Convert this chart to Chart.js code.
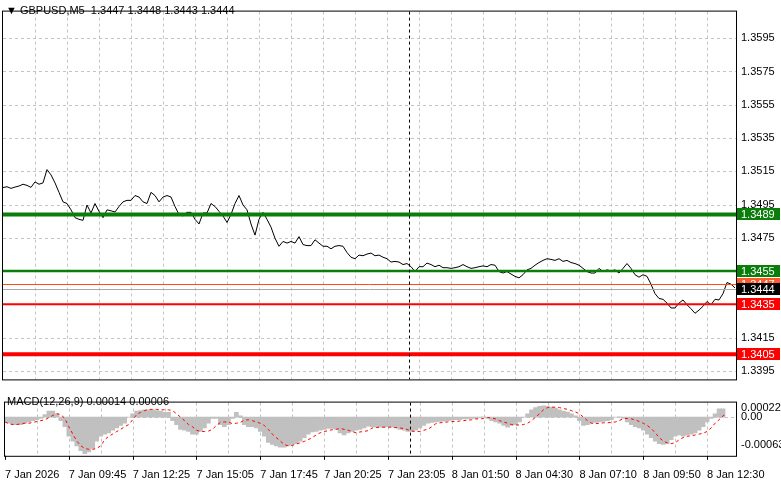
<!DOCTYPE html>
<html><head><meta charset="utf-8">
<script src="https://cdn.jsdelivr.net/npm/chart.js@4/dist/chart.umd.min.js"></script>
<style>
body{margin:0;background:#fff;width:781px;height:489px;overflow:hidden;position:relative}
#c1{position:absolute;left:0;top:0}
#c2{position:absolute;left:0;top:391px}
</style></head><body>
<canvas id="c1" width="781" height="391"></canvas>
<canvas id="c2" width="781" height="98"></canvas>
<script>
const title = "▼ GBPUSD,M5  1.3447 1.3448 1.3443 1.3444";
const macdTitle = "MACD(12,26,9) 0.00014 0.00006";
const timeLabels = ["7 Jan 2026","7 Jan 09:45","7 Jan 12:25","7 Jan 15:05","7 Jan 17:45","7 Jan 20:25","7 Jan 23:05","8 Jan 01:50","8 Jan 04:30","8 Jan 07:10","8 Jan 09:50","8 Jan 12:30"];
const priceTicks = [1.3595,1.3575,1.3555,1.3535,1.3515,1.3495,1.3475,1.3455,1.3435,1.3415,1.3395];
const macdTicks = [0.00022,0.00,-0.00063];
// close prices, one every 10 minutes
const closes = [1.35052,1.35057,1.35047,1.35055,1.35061,1.35072,1.35065,1.35053,1.35086,1.35072,1.35080,1.35160,1.35128,1.35080,1.35023,1.34966,1.34956,1.34918,1.34871,1.34861,1.34855,1.34947,1.34899,1.34956,1.34909,1.34871,1.34918,1.34912,1.34905,1.34938,1.34966,1.34975,1.34975,1.35004,1.34995,1.34966,1.34956,1.35023,1.35004,1.34966,1.34995,1.35004,1.34995,1.34938,1.34890,1.34881,1.34903,1.34903,1.34861,1.34833,1.34899,1.34899,1.34956,1.34938,1.34909,1.34881,1.34842,1.34890,1.34956,1.35004,1.34947,1.34918,1.34833,1.34766,1.34861,1.34903,1.34861,1.34814,1.34747,1.34699,1.34728,1.34718,1.34728,1.34718,1.34757,1.34709,1.34703,1.34703,1.34738,1.34718,1.34699,1.34699,1.34684,1.34699,1.34703,1.34699,1.34661,1.34633,1.34624,1.34646,1.34642,1.34652,1.34658,1.34642,1.34646,1.34633,1.34624,1.34604,1.34608,
1.34604,1.34589,1.34595,1.34576,1.34547,1.34576,1.34576,1.34598,1.34589,1.34576,1.34585,1.34570,1.34570,1.34566,1.34570,1.34576,1.34589,1.34576,1.34566,1.34570,1.34576,1.34581,1.34576,1.34589,1.34585,1.34547,1.34538,1.34547,1.34532,1.34518,1.34509,1.34528,1.34557,1.34566,1.34585,1.34601,1.34614,1.34624,1.34620,1.34614,1.34624,1.34608,1.34614,1.34601,1.34595,1.34585,1.34566,1.34547,1.34538,1.34538,1.34566,1.34547,1.34557,1.34551,1.34557,1.34538,1.34566,1.34595,1.34566,1.34528,1.34513,1.34528,1.34518,1.34471,1.34414,1.34385,1.34380,1.34357,1.34328,1.34328,1.34357,1.34376,1.34347,1.34323,1.34296,1.34315,1.34338,1.34367,1.34347,1.34380,1.34376,1.34414,1.34481,1.34471,1.34448];
// MACD histogram and signal, in units of 0.00001
const macdHistE5 = [-10,-14,-17,-17,-17,-14,-11,-8,-6,-3,6,14,14,8,-8,-22,-44,-55,-66,-77,-84,-80,-72,-55,-44,-39,-36,-30,-25,-19,-14,0,8,14,15,17,17,17,15,14,11,11,-8,-17,-28,-30,-33,-39,-39,-33,-25,-14,-3,-3,-17,-22,-17,-3,11,3,-17,-22,-22,-25,-33,-44,-58,-63,-66,-69,-69,-66,-63,-61,-55,-47,-39,-34,-33,-30,-28,-26,-26,-28,-36,-41,-36,-33,-30,-28,-25,
-21,-22,-23,-23,-23,-22,-23,-25,-28,-30,-33,-33,-30,-25,-19,-14,-12,-11,-10,-9,-8,-7,-6,-6,-4,-4,-3,-3,-1,1,-3,-8,-11,-14,-19,-23,-19,-17,-11,0,8,17,22,25,26,25,23,21,17,14,12,8,3,-8,-19,-17,-14,-12,-11,-10,-8,-6,0,1,-3,-11,-17,-22,-25,-30,-39,-47,-55,-61,-63,-61,-52,-44,-41,-44,-41,-39,-36,-30,-22,-11,-3,8,19,19];
const macdSignalE5 = [-11,-15,-17,-17,-15,-14,-14,-12,-10,-8,-6,-1,4,8,6,-3,-22,-39,-55,-66,-72,-74,-74,-72,-66,-52,-44,-39,-33,-28,-22,-17,-6,6,11,15,18,18,18,17,17,17,15,8,0,-8,-17,-22,-30,-33,-33,-32,-28,-19,-12,-11,-11,-15,-14,-12,-7,-6,-8,-11,-14,-19,-28,-39,-47,-55,-63,-66,-65,-62,-59,-56,-52,-47,-41,-36,-33,-31,-29,-28,-26,-28,-30,-33,-36,-34,-33,-31,
-25,-24,-23,-23,-23,-23,-24,-25,-26,-29,-32,-33,-33,-30,-28,-22,-15,-13,-12,-11,-10,-10,-9,-8,-7,-6,-4,-4,-3,-1,-2,-4,-8,-11,-14,-17,-18,-18,-17,-14,-8,0,8,17,22,23,23,22,20,18,15,12,8,0,-8,-14,-15,-14,-13,-13,-12,-11,-8,-3,-3,-4,-6,-10,-14,-19,-26,-36,-47,-55,-59,-61,-59,-52,-47,-44,-43,-41,-39,-37,-33,-25,-14,-6,3,8];
const levels = [
 {v:1.3489,color:"#0b7d0b",w:4,label:"1.3489",box:"#0b7d0b"},
 {v:1.3455,color:"#0b7d0b",w:2.5,label:"1.3455",box:"#0b7d0b"},
 {v:1.3447,color:"#ff4a1a",w:1,label:"1.3447",box:"#ff5a2a"},
 {v:1.3444,color:"#a8a8a8",w:1,label:"1.3444",box:"#000000"},
 {v:1.3435,color:"#ff0000",w:2,label:"1.3435",box:"#ff0000"},
 {v:1.3405,color:"#ff0000",w:4,label:"1.3405",box:"#ff0000"}
];
const cursorIndex = 101.5;
const X_MAX = 183.25;

const FONT = {family:"Liberation Sans", size:11};
const NOGRID = {display:false, drawTicks:false};
function xScale(showLabels){
  return {type:"linear", min:0, max:X_MAX, offset:false,
    afterBuildTicks:s=>{const t=[];for(let i=0;i<=176;i+=8)t.push({value:i});s.ticks=t;},
    grid:{display:false}, border:{display:false},
    ticks:{display:showLabels,autoSkip:false,maxRotation:0,align:"start",color:"#000",font:FONT,padding:5,
      callback:v=>(v%16===0? timeLabels[v/16]||"" : "")}};
}
function dashedGrid(c, horiz){
  const g=c.ctx,a=c.chartArea;g.save();g.strokeStyle="#c4c4c4";g.lineWidth=1;g.setLineDash([3,3]);
  c.scales.x.ticks.forEach(t=>{if(t.value===0)return;const x=Math.round(c.scales.x.getPixelForValue(t.value))+0.5;g.beginPath();g.moveTo(x,a.top);g.lineTo(x,a.bottom);g.stroke();});
  horiz.forEach(v=>{const y=Math.round(c.scales.y.getPixelForValue(v))+0.5;g.beginPath();g.moveTo(a.left,y);g.lineTo(a.right,y);g.stroke();});
  g.restore();
}
const frame = {id:"frame", afterDraw(c){const a=c.chartArea,g=c.ctx;g.save();g.strokeStyle="#000";g.lineWidth=1;
  g.strokeRect(a.left-0.5,a.top-0.5,a.right-a.left+1,a.bottom-a.top+1);
  const x=Math.round(c.scales.x.getPixelForValue(cursorIndex))+0.5;g.setLineDash([3,3]);g.beginPath();g.moveTo(x,a.top);g.lineTo(x,a.bottom);g.stroke();
  if(c.canvas.id==="c2"){g.setLineDash([]);c.scales.x.ticks.forEach(t=>{if(t.value%16)return;const px=Math.round(c.scales.x.getPixelForValue(t.value))+0.5;g.beginPath();g.moveTo(px,a.bottom);g.lineTo(px,a.bottom+4);g.stroke();});}
  g.restore();}};

new Chart(document.getElementById("c1"),{
  type:"line",
  data:{datasets:[{data:closes.map((v,i)=>({x:i,y:v})),borderColor:"#000",borderWidth:1,pointRadius:0,tension:0}]},
  options:{responsive:false,animation:false,layout:{padding:{left:3,top:3,right:0,bottom:1}},
    plugins:{legend:{display:false},tooltip:{enabled:false}},
    scales:{x:Object.assign(xScale(false),{display:true}),
      y:{position:"right",min:1.338984,max:1.361100,afterFit:s=>{s.width=45;},
        afterBuildTicks:s=>{s.ticks=priceTicks.map(v=>({value:v}));},
        grid:NOGRID, border:{display:false},
        ticks:{color:"#000",font:FONT,padding:5,callback:v=>v.toFixed(4)}}}},
  plugins:[{id:"grid",beforeDatasetsDraw(c){dashedGrid(c,priceTicks);}},
    {id:"levels",afterDatasetsDraw(c){const g=c.ctx,a=c.chartArea,y=c.scales.y;g.save();
      levels.forEach(l=>{let p=y.getPixelForValue(l.v);if(l.w%2===1)p=Math.round(p)+0.5;g.strokeStyle=l.color;g.lineWidth=l.w;g.beginPath();g.moveTo(a.left,p);g.lineTo(a.right,p);g.stroke();});
      g.font="11px 'Liberation Sans'";g.textBaseline="middle";
      levels.forEach(l=>{const p=y.getPixelForValue(l.v);g.fillStyle=l.box;g.fillRect(a.right+1,Math.round(p)-6,43,12);g.fillStyle="#fff";g.fillText(l.label,a.right+5,p+0.5);});
      g.fillStyle="#000";g.textBaseline="alphabetic";g.fillText(title,6,14);
      g.restore();}},frame]
});

new Chart(document.getElementById("c2"),{
  type:"bar",
  data:{datasets:[
    {type:"line",data:macdSignalE5.map((v,i)=>({x:i,y:v*1e-5})),borderColor:"#ff0000",borderWidth:1,borderDash:[3,3],pointRadius:0,tension:0,order:0},
    {type:"bar",data:macdHistE5.map((v,i)=>({x:i,y:v*1e-5})),backgroundColor:"#c0c0c0",barThickness:4,borderWidth:0,order:1}]},
  options:{responsive:false,animation:false,layout:{padding:{left:3,top:2,right:0,bottom:2}},
    plugins:{legend:{display:false},tooltip:{enabled:false}},
    scales:{x:xScale(true),
      y:{position:"right",min:-0.00089,max:0.000336,afterFit:s=>{s.width=45;},
        afterBuildTicks:s=>{s.ticks=macdTicks.map(v=>({value:v}));},
        grid:NOGRID, border:{display:false},
        ticks:{color:"#000",font:FONT,padding:5,callback:v=>(v===0?"0.00":v.toFixed(5))}}}},
  plugins:[{id:"grid",beforeDatasetsDraw(c){dashedGrid(c,[0]);}},
    {id:"mt",afterDraw(c){const g=c.ctx;g.save();g.fillStyle="#000";g.font="11px 'Liberation Sans'";g.fillText(macdTitle,7,14);g.restore();}},frame]
});
</script></body></html>
